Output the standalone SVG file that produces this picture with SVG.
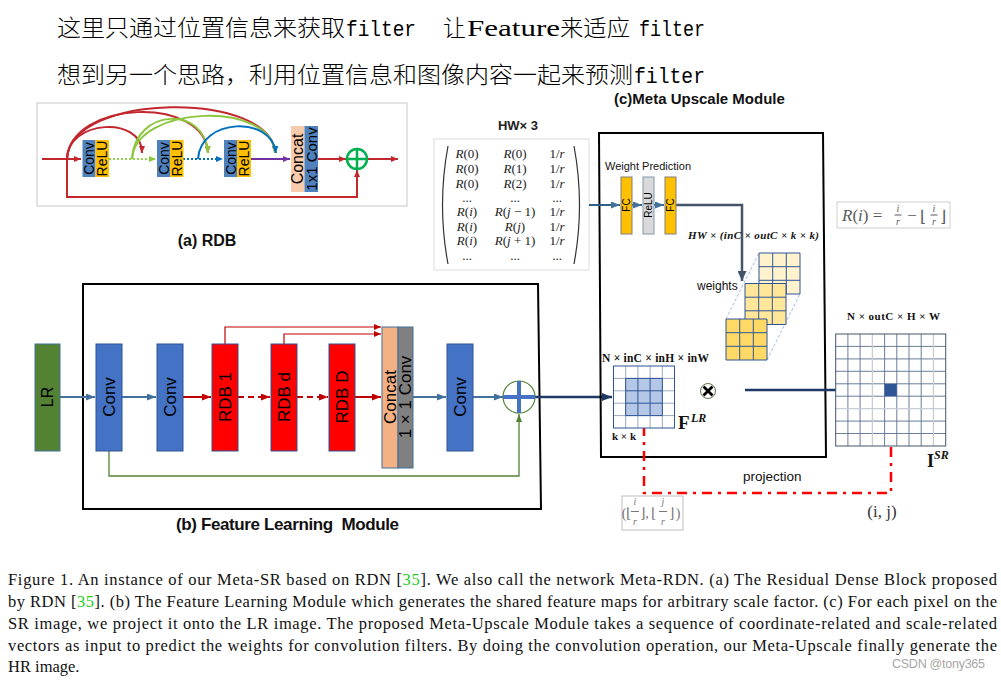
<svg xmlns="http://www.w3.org/2000/svg" width="1001" height="680" viewBox="0 0 1001 680">
<defs>
<style>
.sans{font-family:"Liberation Sans",Arial,sans-serif}
.serif{font-family:"Liberation Serif","Times New Roman",serif}
.cjk{font-family:"Noto Sans CJK SC",sans-serif;font-weight:300}
.mono{font-family:"Liberation Mono","Courier New",monospace}
.it{font-style:italic}
.b{font-weight:bold}
.pre{white-space:pre}
.lbl{font-family:"Liberation Sans",Arial,sans-serif;text-anchor:middle;dominant-baseline:central;fill:#000}
.mx{font-family:"Liberation Serif","Times New Roman",serif;font-size:13px;text-anchor:middle;fill:#222}
.cap{font-family:"Liberation Serif","Times New Roman",serif;font-size:16.5px;fill:#111}
.grn{fill:#22cc22}
.blk{stroke:#2f5597;stroke-width:1}
.gl{fill:none;stroke:#2f5597;stroke-width:1}
</style>
<marker id="aRs" markerUnits="userSpaceOnUse" markerWidth="7" markerHeight="6" refX="7" refY="3" orient="auto"><path d="M0,0L7,3L0,6z" fill="#c1272d"/></marker>
<marker id="aGs" markerUnits="userSpaceOnUse" markerWidth="7" markerHeight="6" refX="7" refY="3" orient="auto"><path d="M0,0L7,3L0,6z" fill="#8cc63f"/></marker>
<marker id="aBs" markerUnits="userSpaceOnUse" markerWidth="7" markerHeight="6" refX="7" refY="3" orient="auto"><path d="M0,0L7,3L0,6z" fill="#0070c0"/></marker>
<marker id="aPs" markerUnits="userSpaceOnUse" markerWidth="7" markerHeight="6" refX="7" refY="3" orient="auto"><path d="M0,0L7,3L0,6z" fill="#7030a0"/></marker>
<marker id="aRb" markerUnits="userSpaceOnUse" markerWidth="9" markerHeight="7" refX="9" refY="3.5" orient="auto"><path d="M0,0L9,3.5L0,7z" fill="#c00000"/></marker>
<marker id="aRt" markerUnits="userSpaceOnUse" markerWidth="7" markerHeight="6" refX="7" refY="3" orient="auto"><path d="M0,0L7,3L0,6z" fill="#c00000"/></marker>
<marker id="aSt" markerUnits="userSpaceOnUse" markerWidth="9" markerHeight="7" refX="9" refY="3.5" orient="auto"><path d="M0,0L9,3.5L0,7z" fill="#41719c"/></marker>
<marker id="aGb" markerUnits="userSpaceOnUse" markerWidth="8" markerHeight="6" refX="8" refY="3" orient="auto"><path d="M0,0L8,3L0,6z" fill="#548235"/></marker>
<marker id="aNv" markerUnits="userSpaceOnUse" markerWidth="10" markerHeight="8" refX="10" refY="4" orient="auto"><path d="M0,0L10,4L0,8z" fill="#1f3864"/></marker>
<marker id="aSl" markerUnits="userSpaceOnUse" markerWidth="10" markerHeight="9" refX="10" refY="4.5" orient="auto"><path d="M0,0L10,4.5L0,9z" fill="#44546a"/></marker>
<marker id="aRu" markerUnits="userSpaceOnUse" markerWidth="10" markerHeight="10" refX="10" refY="5" orient="auto"><path d="M0,0L10,5L0,10z" fill="#ff0000"/></marker>
</defs>
<rect width="1001" height="680" fill="#fff"/>

<!-- top notes -->
<g id="notes" fill="#000">
<text class="cjk" x="57" y="36" font-size="23" textLength="288" lengthAdjust="spacingAndGlyphs">这里只通过位置信息来获取</text>
<text class="mono" x="346" y="36" font-size="22" textLength="70" lengthAdjust="spacingAndGlyphs">filter</text>
<text class="cjk" x="443" y="36" font-size="23" textLength="23" lengthAdjust="spacingAndGlyphs">让</text>
<text class="serif" x="467" y="36" font-size="23" textLength="93" lengthAdjust="spacingAndGlyphs">Feature</text>
<text class="cjk" x="560" y="36" font-size="23" textLength="70" lengthAdjust="spacingAndGlyphs">来适应</text>
<text class="mono" x="639" y="36" font-size="22" textLength="66" lengthAdjust="spacingAndGlyphs">filter</text>
<text class="cjk" x="57" y="83" font-size="23" textLength="576" lengthAdjust="spacingAndGlyphs">想到另一个思路，利用位置信息和图像内容一起来预测</text>
<text class="mono" x="634" y="83" font-size="22" textLength="71" lengthAdjust="spacingAndGlyphs">filter</text>
</g>

<!-- (a) RDB -->
<g id="rdb-frame"><rect x="37" y="103" width="370" height="103" fill="none" stroke="#d0d0d0" stroke-width="1.2"/></g>
<g id="rdb-connectors" fill="none" stroke-width="2">
<path d="M42,159H81" stroke="#c1272d" marker-end="url(#aRs)"/>
<path d="M67,159V197H357V170" stroke="#c1272d" marker-end="url(#aRs)"/>
<path d="M109,159H156" stroke="#92d050" stroke-dasharray="2 2" marker-end="url(#aGs)"/>
<path d="M183,159H223" stroke="#0070c0" stroke-dasharray="2 2" marker-end="url(#aBs)"/>
<path d="M251,159H290" stroke="#7030a0" marker-end="url(#aPs)"/>
<path d="M318,159H346" stroke="#c1272d" marker-end="url(#aRs)"/>
<path d="M367,159H398" stroke="#c1272d" marker-end="url(#aRs)"/>
<path d="M67,159C67,120 142,115 142,153" stroke="#c1272d" marker-end="url(#aRs)"/>
<path d="M67,159C70,100 205,95 208,153" stroke="#c1272d" marker-end="url(#aRs)"/>
<path d="M67,159C70,92 272,90 275,153" stroke="#c1272d" marker-end="url(#aRs)"/>
<path d="M132,159C135,108 205,105 208,153" stroke="#8cc63f" marker-end="url(#aGs)"/>
<path d="M132,159C135,105 272,100 275,153" stroke="#8cc63f" marker-end="url(#aGs)"/>
<path d="M198,159C200,118 272,115 276,153" stroke="#0070c0" marker-end="url(#aBs)"/>
</g>
<g id="rdb-conv1"><rect x="82.5" y="140" width="13" height="37" fill="#4f81bd"/><text class="lbl" font-size="14" transform="translate(89,158.5) rotate(-90)">Conv</text></g>
<g id="rdb-relu1"><rect x="95.5" y="140" width="13.5" height="37" fill="#ffc000"/><text class="lbl" font-size="14" transform="translate(102.3,158.5) rotate(-90)">ReLU</text></g>
<g id="rdb-conv2"><rect x="157" y="140" width="13" height="37" fill="#4f81bd"/><text class="lbl" font-size="14" transform="translate(163.5,158.5) rotate(-90)">Conv</text></g>
<g id="rdb-relu2"><rect x="170" y="140" width="13.5" height="37" fill="#ffc000"/><text class="lbl" font-size="14" transform="translate(176.8,158.5) rotate(-90)">ReLU</text></g>
<g id="rdb-conv3"><rect x="224" y="140" width="13" height="37" fill="#4f81bd"/><text class="lbl" font-size="14" transform="translate(230.5,158.5) rotate(-90)">Conv</text></g>
<g id="rdb-relu3"><rect x="237" y="140" width="14" height="37" fill="#ffc000"/><text class="lbl" font-size="14" transform="translate(244,158.5) rotate(-90)">ReLU</text></g>
<g id="rdb-concat"><rect x="291" y="126" width="13.5" height="66" fill="#f8cbad"/><text class="lbl" font-size="16" transform="translate(297.7,159) rotate(-90)">Concat</text></g>
<g id="rdb-1x1conv"><rect x="304.5" y="126" width="13.5" height="66" fill="#4f81bd"/><text class="lbl" font-size="15" transform="translate(311.2,159) rotate(-90)">1x1 Conv</text></g>
<g id="rdb-sum"><circle cx="357" cy="159" r="10" fill="#fff" stroke="#00b050" stroke-width="2.5"/><path d="M357,149V169M347,159H367" stroke="#00b050" stroke-width="2.5"/></g>
<g id="rdb-label"><text class="sans" x="207" y="246" font-size="16" text-anchor="middle" font-weight="bold" fill="#111">(a) RDB</text></g>

<!-- (b) Feature Learning Module -->
<g id="flm-frame"><path d="M83,284H538L541,509H83Z" fill="none" stroke="#000" stroke-width="2"/>
<text class="sans pre" x="176" y="530" font-size="17" textLength="223" font-weight="bold" fill="#111">(b) Feature Learning  Module</text></g>
<g id="flm-connectors" fill="none">
<path d="M60,397H95" stroke="#41719c" stroke-width="2" marker-end="url(#aSt)"/>
<path d="M122,397H156" stroke="#41719c" stroke-width="2" marker-end="url(#aSt)"/>
<path d="M183,397H211" stroke="#c00000" stroke-width="2" marker-end="url(#aRb)"/>
<path d="M238,397H270" stroke="#c00000" stroke-width="2" stroke-dasharray="6 4" marker-end="url(#aRb)"/>
<path d="M297,397H328" stroke="#c00000" stroke-width="2" stroke-dasharray="6 4" marker-end="url(#aRb)"/>
<path d="M355,397H381" stroke="#c00000" stroke-width="2" marker-end="url(#aRb)"/>
<path d="M413,397H446" stroke="#41719c" stroke-width="2" marker-end="url(#aSt)"/>
<path d="M473,397H503" stroke="#41719c" stroke-width="2" marker-end="url(#aSt)"/>
<path d="M225,344V327H381" stroke="#c00000" stroke-width="1.2" marker-end="url(#aRt)"/>
<path d="M284,344V334H381" stroke="#c00000" stroke-width="1.2" marker-end="url(#aRt)"/>
<path d="M109,451V476H519V414" stroke="#548235" stroke-width="1.3" marker-end="url(#aGb)"/>
<path d="M535,397H612" stroke="#1f3864" stroke-width="2.5" marker-end="url(#aNv)"/>
</g>
<g id="flm-lr"><rect x="35" y="344" width="25" height="107" fill="#548235" stroke="#41719c"/><text class="lbl" font-size="16" transform="translate(47.5,397) rotate(-90)">LR</text></g>
<g id="flm-conv1"><rect x="96" y="344" width="26" height="107" fill="#4472c4" class="blk"/><text class="lbl" font-size="17" transform="translate(109,397) rotate(-90)">Conv</text></g>
<g id="flm-conv2"><rect x="157" y="344" width="26" height="107" fill="#4472c4" class="blk"/><text class="lbl" font-size="17" transform="translate(170,397) rotate(-90)">Conv</text></g>
<g id="flm-rdb1"><rect x="212" y="344" width="26" height="107" fill="#ff0000" class="blk"/><text class="lbl" font-size="17" transform="translate(225,397) rotate(-90)">RDB 1</text></g>
<g id="flm-rdbd"><rect x="271" y="344" width="26" height="107" fill="#ff0000" class="blk"/><text class="lbl" font-size="17" transform="translate(284,397) rotate(-90)">RDB d</text></g>
<g id="flm-rdbD"><rect x="329" y="344" width="26" height="107" fill="#ff0000" class="blk"/><text class="lbl" font-size="17" transform="translate(342,397) rotate(-90)">RDB D</text></g>
<g id="flm-concat"><rect x="382" y="327" width="16" height="141" fill="#f4b183" stroke="#41719c"/><text class="lbl" font-size="17" transform="translate(390,397) rotate(-90)">Concat</text></g>
<g id="flm-1x1conv"><rect x="398" y="327" width="15" height="141" fill="#808080" stroke="#41719c"/><text class="lbl" font-size="17" transform="translate(405.5,397) rotate(-90)">1 × 1 Conv</text></g>
<g id="flm-conv3"><rect x="447" y="344" width="26" height="107" fill="#4472c4" class="blk"/><text class="lbl" font-size="17" transform="translate(460,397) rotate(-90)">Conv</text></g>
<g id="flm-sum"><circle cx="519" cy="397" r="16" fill="#fff" stroke="#548235" stroke-width="1.2"/><path d="M519,381V413M503,397H535" stroke="#4472c4" stroke-width="4"/></g>

<!-- matrix -->
<g id="coord-matrix">
<text class="sans b" x="518" y="130" font-size="13" text-anchor="middle" fill="#222">HW× 3</text>
<rect x="434" y="139" width="155" height="131" fill="#fff" stroke="#dcdcdc"/>
<path d="M448,146Q437,205 448,264M574,146Q585,205 574,264" fill="none" stroke="#333" stroke-width="1.2"/>
<text class="mx" x="467" y="158"><tspan class="it">R</tspan>(0)</text><text class="mx" x="515" y="158"><tspan class="it">R</tspan>(0)</text><text class="mx" x="557" y="158">1/<tspan class="it">r</tspan></text>
<text class="mx" x="467" y="173"><tspan class="it">R</tspan>(0)</text><text class="mx" x="515" y="173"><tspan class="it">R</tspan>(1)</text><text class="mx" x="557" y="173">1/<tspan class="it">r</tspan></text>
<text class="mx" x="467" y="188"><tspan class="it">R</tspan>(0)</text><text class="mx" x="515" y="188"><tspan class="it">R</tspan>(2)</text><text class="mx" x="557" y="188">1/<tspan class="it">r</tspan></text>
<text class="mx" x="467" y="202">...</text><text class="mx" x="515" y="202">...</text><text class="mx" x="557" y="202">...</text>
<text class="mx" x="467" y="216"><tspan class="it">R</tspan>(<tspan class="it">i</tspan>)</text><text class="mx" x="515" y="216"><tspan class="it">R</tspan>(<tspan class="it">j</tspan> − 1)</text><text class="mx" x="557" y="216">1/<tspan class="it">r</tspan></text>
<text class="mx" x="467" y="231"><tspan class="it">R</tspan>(<tspan class="it">i</tspan>)</text><text class="mx" x="515" y="231"><tspan class="it">R</tspan>(<tspan class="it">j</tspan>)</text><text class="mx" x="557" y="231">1/<tspan class="it">r</tspan></text>
<text class="mx" x="467" y="245"><tspan class="it">R</tspan>(<tspan class="it">i</tspan>)</text><text class="mx" x="515" y="245"><tspan class="it">R</tspan>(<tspan class="it">j</tspan> + 1)</text><text class="mx" x="557" y="245">1/<tspan class="it">r</tspan></text>
<text class="mx" x="467" y="260">...</text><text class="mx" x="515" y="260">...</text><text class="mx" x="557" y="260">...</text>
</g>

<!-- (c) Meta Upscale Module -->
<g id="mum-frame"><path d="M599,133H823L826,457H601Z" fill="none" stroke="#000" stroke-width="2"/>
<text class="sans b" x="614" y="104" font-size="15" fill="#111">(c)Meta Upscale Module</text>
<text class="sans" x="605" y="170" font-size="11" fill="#111">Weight Prediction</text></g>
<g id="mum-connectors" fill="none">
<path d="M589,205H620" stroke="#2e5f8a" stroke-width="2" marker-end="url(#aSt)"/>
<path d="M632,205H642" stroke="#2e5f8a" stroke-width="2" marker-end="url(#aSt)"/>
<path d="M654,205H664" stroke="#2e5f8a" stroke-width="2" marker-end="url(#aSt)"/>
<path d="M676,205H742V281" stroke="#44546a" stroke-width="2.5" marker-end="url(#aSl)"/>
<path d="M745,390H883" stroke="#1f3864" stroke-width="2.5" marker-end="url(#aNv)"/>
<path d="M644,422V404" stroke="#ff0000" stroke-width="3" marker-end="url(#aRu)"/>
<path d="M644,426V493H891V397" stroke="#ff0000" stroke-width="2.5" stroke-dasharray="10 6 3 6"/>
</g>
<g id="fc1"><rect x="621" y="177" width="11" height="57" fill="#ffc000" stroke="#7f7f7f"/><text class="lbl" font-size="10" transform="translate(626.5,205) rotate(-90)">FC</text></g>
<g id="relu"><rect x="643" y="177" width="11" height="57" fill="#d9d9d9" stroke="#8497b0"/><text class="lbl" font-size="10" transform="translate(648.5,205) rotate(-90)">ReLU</text></g>
<g id="fc2"><rect x="665" y="177" width="11" height="57" fill="#ffc000" stroke="#7f7f7f"/><text class="lbl" font-size="10" transform="translate(670.5,205) rotate(-90)">FC</text></g>
<g id="weights">
<text class="serif b it" x="688" y="239" font-size="11" textLength="131" fill="#111">HW × (inC × outC × k × k)</text>
<text class="sans" x="697" y="290" font-size="12" fill="#111">weights</text>
<path d="M726,319L759,253M767,360L800,294" stroke="#8faadc" stroke-width="0.8" stroke-dasharray="3 2"/>
<rect x="759" y="253" width="41" height="41" fill="#fff2cc"/><path class="gl" d="M759,253h41v41h-41zM772.7,253v41M786.3,253v41M759,266.7h41M759,280.3h41"/>
<rect x="745" y="283.5" width="41" height="41" fill="#ffe699"/><path class="gl" d="M745,283.5h41v41h-41zM758.7,283.5v41M772.3,283.5v41M745,297.2h41M745,310.8h41"/>
<rect x="726" y="319" width="41" height="41" fill="#ffd966"/><path class="gl" d="M726,319h41v41h-41zM739.7,319v41M753.3,319v41M726,332.7h41M726,346.3h41"/>
</g>
<g id="f-lr">
<text class="serif b" x="602" y="362" font-size="11.5" textLength="107" fill="#111">N × inC  × inH × inW</text>
<rect x="613.5" y="366" width="61" height="62" fill="#fff"/>
<path d="M625.7,366V428M637.9,366V428M650.1,366V428M662.3,366V428M613.5,378.4H674.5M613.5,390.8H674.5M613.5,403.2H674.5M613.5,415.6H674.5" stroke="#9aa8bf" stroke-width="1"/>
<rect x="625.7" y="378.4" width="36.6" height="37.2" fill="#b4c7e7"/>
<path d="M637.9,378.4V415.6M650.1,378.4V415.6M625.7,390.8H662.3M625.7,403.2H662.3" stroke="#2f5597" stroke-width="1"/>
<rect x="625.7" y="378.4" width="36.6" height="37.2" fill="none" stroke="#2f5597"/>
<rect x="613.5" y="366" width="61" height="62" fill="none" stroke="#2f5597"/>
<text class="serif b" x="612" y="440" font-size="11" fill="#111">k × k</text>
<text class="serif b" x="678" y="429" font-size="19" fill="#111">F</text><text class="serif b it" x="691" y="422" font-size="12" fill="#111">LR</text>
</g>
<g id="conv-op"><circle cx="708" cy="391" r="7.5" fill="#fff" stroke="#375623" stroke-width="0.8"/><path d="M703.5,386.5L712.5,395.5M712.5,386.5L703.5,395.5" stroke="#000" stroke-width="2.8"/></g>
<g id="projection-label"><text class="sans" x="743" y="481" font-size="13.5" fill="#111">projection</text></g>
<g id="lr-coord">
<rect x="622" y="496" width="61" height="34" fill="#fff" stroke="#bdbdbd"/>
<g class="serif" fill="#777" font-size="14" text-anchor="middle">
<text x="624" y="518">(</text><text x="628.5" y="518">⌊</text>
<text class="it" x="635" y="505" font-size="10">i</text><path d="M631,511.5H639" stroke="#777"/><text class="it" x="635" y="525" font-size="10">r</text>
<text x="642" y="518">⌋</text><text x="647" y="518">,</text><text x="653.5" y="518">⌊</text>
<text class="it" x="663" y="505" font-size="10">j</text><path d="M659,511.5H667" stroke="#777"/><text class="it" x="663" y="525" font-size="10">r</text>
<text x="671" y="518">⌋</text><text x="678" y="518">)</text>
</g>
</g>
<g id="sr-image">
<text class="serif b" x="847" y="320" font-size="11" textLength="93" fill="#111">N × outC  × H × W</text>
<rect x="835.7" y="334" width="110" height="112" fill="#fff"/>
<path d="M847.9,334V446M860.1,334V446M884.6,334V446M896.8,334V446M909,334V446M921.2,334V446M835.7,346.4H945.7M835.7,358.9H945.7M835.7,371.3H945.7M835.7,383.8H945.7M835.7,396.2H945.7M835.7,421.1H945.7M835.7,433.5H945.7" stroke="#5b6f8e" stroke-width="0.9"/>
<path d="M872.4,334V446M933.5,334V446M835.7,408.6H945.7" stroke="#c8ccd4" stroke-width="1.3"/>
<rect x="835.7" y="334" width="110" height="112" fill="none" stroke="#44546a"/>
<rect x="884.6" y="383.8" width="12.2" height="12.4" fill="#2f5597"/>
<text class="serif b" x="927" y="467" font-size="18" fill="#111">I</text><text class="serif b it" x="934" y="459" font-size="12" fill="#111">SR</text>
</g>
<g id="sr-coord"><text class="serif" x="882" y="517" font-size="17" text-anchor="middle" fill="#333">(i, j)</text></g>
<g id="r-formula">
<rect x="837" y="202" width="113" height="26" fill="#fff" stroke="#cfcfcf"/>
<g class="serif" fill="#595959">
<text x="842" y="221" font-size="17"><tspan class="it">R</tspan>(<tspan class="it">i</tspan>) =</text>
<text class="it" x="898" y="212" font-size="10" text-anchor="middle">i</text><path d="M894.5,215H901.5" stroke="#595959"/><text class="it" x="898" y="225" font-size="10" text-anchor="middle">r</text>
<text x="912" y="221" font-size="17" text-anchor="middle">−</text>
<text x="923" y="222" font-size="16" text-anchor="middle">⌊</text>
<text class="it" x="934" y="212" font-size="10" text-anchor="middle">i</text><path d="M930.5,215H937.5" stroke="#595959"/><text class="it" x="934" y="225" font-size="10" text-anchor="middle">r</text>
<text x="943" y="222" font-size="16" text-anchor="middle">⌋</text>
</g>
</g>

<!-- caption -->
<g id="caption">
<text class="cap" x="8" y="585" textLength="989">Figure 1. An instance of our Meta-SR based on RDN [<tspan class="grn">35</tspan>]. We also call the network Meta-RDN. (a) The Residual Dense Block proposed</text>
<text class="cap" x="8" y="607" textLength="989">by RDN [<tspan class="grn">35</tspan>]. (b) The Feature Learning Module which generates the shared feature maps for arbitrary scale factor. (c) For each pixel on the</text>
<text class="cap" x="8" y="629" textLength="989">SR image, we project it onto the LR image. The proposed Meta-Upscale Module takes a sequence of coordinate-related and scale-related</text>
<text class="cap" x="8" y="651" textLength="989">vectors as input to predict the weights for convolution filters. By doing the convolution operation, our Meta-Upscale finally generate the</text>
<text class="cap" x="8" y="672">HR image.</text>
<text class="sans" x="892" y="668" font-size="12.5" textLength="93" fill="#a6a6a6">CSDN @tony365</text>
</g>
</svg>
